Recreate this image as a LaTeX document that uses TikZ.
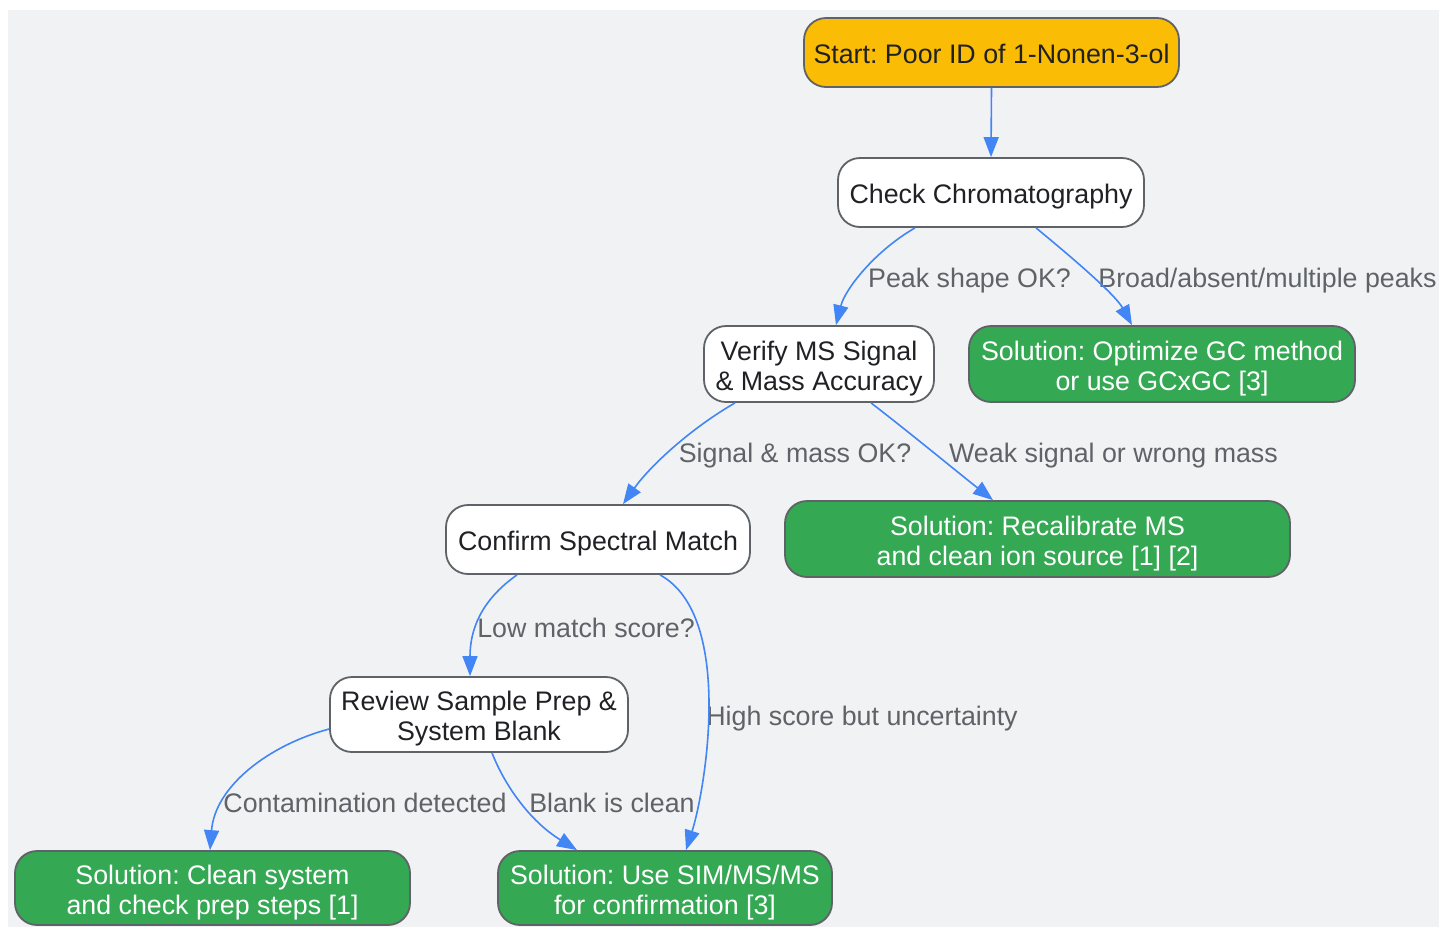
\documentclass[tikz,border=0pt]{standalone}
\usepackage{fontspec}
\setmainfont{Liberation Sans}
\usetikzlibrary{arrows.meta,calc}
\definecolor{bg}{HTML}{F1F2F4}
\definecolor{yel}{HTML}{FBBC05}
\definecolor{grn}{HTML}{34A853}
\definecolor{blu}{HTML}{4285F4}
\definecolor{bord}{HTML}{5F6368}
\definecolor{txt}{HTML}{202124}
\definecolor{lbl}{HTML}{5F6368}
\frenchspacing
\newcommand\nodeone[1]{\raisebox{-5.25pt}[0pt][0pt]{#1}}
\newcommand\nodetwo[2]{\raisebox{2pt}[0pt][0pt]{\begin{tabular}[t]{@{}c@{}}#1\\#2\end{tabular}}}
\begin{document}
\begin{tikzpicture}[x=0.5pt,y=0.5pt,
 box/.style={draw=bord, line width=0.9pt, rounded corners=11pt, font=\fontsize{13.4}{15}\selectfont, inner sep=0pt},
 startbox/.style={box, fill=yel, text=txt},
 stepbox/.style={box, fill=white, text=txt},
 solbox/.style={box, fill=grn, text=white},
 lab/.style={text=lbl, font=\fontsize{13.4}{15}\selectfont, inner sep=0pt, anchor=base},
 conn/.style={draw=blu, line width=0.8pt, -{Triangle[length=10pt,width=7.5pt]}}]
\useasboundingbox (0,0) rectangle (1439,-927);
\fill[bg] (8,-10) rectangle (1439,-927);

\node[startbox, minimum width=187.5pt, minimum height=34.5pt] (start) at (991.5,-52.5) {\nodeone{Start: Poor ID of 1-Nonen-3-ol}};
\node[stepbox, minimum width=153pt, minimum height=34.5pt] (check) at (991,-192.5) {\nodeone{Check Chromatography}};
\node[stepbox, minimum width=115pt, minimum height=38pt] (verify) at (819,-364) {\nodetwo{Verify MS Signal}{\& Mass Accuracy}};
\node[solbox, minimum width=193pt, minimum height=38pt] (optgc) at (1162,-364) {\nodetwo{Solution: Optimize GC method}{or use GCxGC [3]}};
\node[stepbox, minimum width=152pt, minimum height=34.5pt] (confirm) at (598,-539.5) {\nodeone{Confirm Spectral Match}};
\node[solbox, minimum width=252.5pt, minimum height=38pt] (recal) at (1037.5,-539) {\nodetwo{Solution: Recalibrate MS}{and clean ion source [1] [2]}};
\node[stepbox, minimum width=149pt, minimum height=37.5pt] (review) at (479,-714.5) {\nodetwo{Review Sample Prep \&}{System Blank}};
\node[solbox, minimum width=197.5pt, minimum height=37pt] (clean) at (212.5,-888) {\nodetwo{Solution: Clean system}{and check prep steps [1]}};
\node[solbox, minimum width=167pt, minimum height=37pt] (sim) at (665,-888) {\nodetwo{Solution: Use SIM/MS/MS}{for confirmation [3]}};

\node[lab] (l1) at (969.5,-287.5) {Peak shape OK?};
\node[lab] (l2) at (1267.5,-287.5) {Broad/absent/multiple peaks};
\node[lab] (l3) at (795,-462.5) {Signal \& mass OK?};
\node[lab] (l4) at (1113.5,-462.5) {Weak signal or wrong mass};
\node[lab] (l5) at (586,-637) {Low match score?};
\node[lab] (l6) at (862,-725) {High score but uncertainty};
\node[lab] (l7) at (365,-812.5) {Contamination detected};
\node[lab] (l8) at (612,-812.5) {Blank is clean};

\draw[conn] (start.south) -- (check.north);
\draw[conn] ($(check.south)+(-76,0)$) .. controls +(-40,-23) and +(9,36) .. ($(verify.north)+(17,0)$);
\draw[conn] ($(check.south)+(45,0)$) .. controls +(34,-28) and +(-17,31) .. ($(optgc.north)+(-30,0)$);
\draw[conn] ($(verify.south)+(-84,0)$) .. controls +(-45,-26) and +(27,38) .. ($(confirm.north)+(25,0)$);
\draw[conn] ($(verify.south)+(52,0)$) .. controls +(39,-30) and +(-38,30) .. ($(recal.north)+(-44.5,0)$);
\draw[conn] ($(confirm.south)+(-81,0)$) .. controls +(-37,-26) and +(0,45) .. ($(review.north)+(-9,0)$);
\draw[conn] ($(confirm.south)+(62,0)$) .. controls +(75,-41) and +(19,59) .. ($(sim.north)+(21,0)$);
\draw[conn] ($(review.west)+(0,-14.5)$) .. controls +(-60,-16) and +(5,64) .. ($(clean.north)+(-2.5,0)$);
\draw[conn] ($(review.south)+(13,0)$) .. controls +(13,-33) and +(-47,29) .. ($(sim.north)+(-88,0)$);
\end{tikzpicture}
\end{document}
